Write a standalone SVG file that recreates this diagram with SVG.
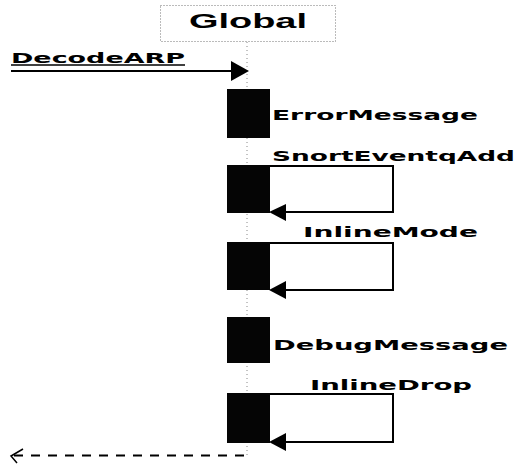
<svg xmlns="http://www.w3.org/2000/svg" width="519" height="465" viewBox="0 0 519 465">
<style>
.lbl{font-family:"DejaVu Sans","Liberation Sans",sans-serif;font-size:14px;font-weight:bold;fill:#000}
.act{fill:#050505}
.loop{fill:none;stroke:#000;stroke-width:2}
.head{fill:#000}
.life{stroke:#888;stroke-width:1;stroke-dasharray:1 3}
</style>
<rect width="519" height="465" fill="#fff"/>
<g id="global">
<rect x="160.5" y="5.5" width="175" height="36" fill="none" stroke="#777" stroke-width="1" stroke-dasharray="1 2"/>
<text x="189" y="28" font-family="'Liberation Sans',Arial,sans-serif" font-weight="bold" font-size="21" textLength="118" lengthAdjust="spacingAndGlyphs">Global</text>
<line class="life" x1="247" y1="42" x2="247" y2="458"/>
</g>
<g id="act1"><rect class="act" x="227" y="89" width="43" height="49"/></g>
<g id="act2"><rect class="act" x="227" y="165" width="43" height="48"/></g>
<g id="act3"><rect class="act" x="227" y="242" width="43" height="48"/></g>
<g id="act4"><rect class="act" x="227" y="317" width="43" height="46"/></g>
<g id="act5"><rect class="act" x="227" y="393" width="43" height="50"/></g>
<g id="connectors">
<g id="msg-decodearp">
<text class="lbl" x="11" y="63" font-size="13" textLength="174" lengthAdjust="spacingAndGlyphs">DecodeARP</text>
<line x1="11" y1="65" x2="185" y2="65" stroke="#000" stroke-width="1.5"/>
<line x1="11" y1="71" x2="233" y2="71" stroke="#000" stroke-width="2"/>
<polygon class="head" points="249,71 231,61 231,81"/>
</g>
<g id="msg-error">
<text class="lbl" x="272" y="120" textLength="206" lengthAdjust="spacingAndGlyphs">ErrorMessage</text>
</g>
<g id="msg-snort">
<text class="lbl" x="272" y="161" textLength="243" lengthAdjust="spacingAndGlyphs">SnortEventqAdd</text>
<path class="loop" d="M270,166 H393 V212 H284"/>
<polygon class="head" points="269,212 286,204 286,221"/>
</g>
<g id="msg-inlinemode">
<text class="lbl" x="303" y="237" textLength="175" lengthAdjust="spacingAndGlyphs">InlineMode</text>
<path class="loop" d="M270,243 H393 V290 H284"/>
<polygon class="head" points="269,290 286,281 286,299"/>
</g>
<g id="msg-debug">
<text class="lbl" x="273" y="350" textLength="235" lengthAdjust="spacingAndGlyphs">DebugMessage</text>
</g>
<g id="msg-inlinedrop">
<text class="lbl" x="310" y="390" textLength="162" lengthAdjust="spacingAndGlyphs">InlineDrop</text>
<path class="loop" d="M270,394 H393 V442 H284"/>
<polygon class="head" points="269,442 286,433 286,451"/>
</g>
<g id="msg-return">
<line x1="14" y1="455.5" x2="248" y2="455.5" stroke="#000" stroke-width="2" stroke-dasharray="9 8"/>
<polyline points="23,449 11,456 17,463" fill="none" stroke="#000" stroke-width="1.5"/>
</g>
</g>
</svg>
